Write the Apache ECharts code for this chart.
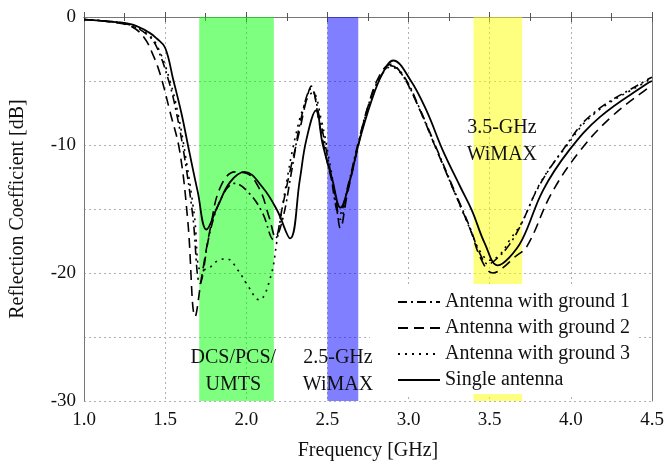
<!DOCTYPE html>
<html>
<head>
<meta charset="utf-8">
<script src="https://cdn.jsdelivr.net/npm/echarts@6/dist/echarts.min.js"></script>
<style>
  html, body { margin: 0; padding: 0; background: #fff; }
  #chart { width: 667px; height: 467px; }
</style>
</head>
<body>
<div id="chart"></div>
<script>
// single antenna (solid)
var freqSingle = [1.0, 1.2, 1.3, 1.4, 1.45, 1.5, 1.55, 1.6, 1.65, 1.7, 1.755, 1.82, 1.9, 1.99, 2.1, 2.19, 2.27, 2.33, 2.37, 2.43, 2.47, 2.53, 2.58, 2.64, 2.69, 2.77, 2.84, 2.905, 3.01, 3.11, 3.21, 3.32, 3.39, 3.47, 3.55, 3.62, 3.7, 3.83, 3.99, 4.18, 4.47, 4.5];
var dbSingle   = [-0.2, -0.4, -0.6, -1.2, -1.7, -2.4, -4.9, -7.5, -10.6, -13.6, -16.6, -14.9, -12.9, -12.1, -13.3, -15.1, -17.3, -12.7, -9.6, -7.3, -9.9, -12.7, -14.9, -12.7, -10.0, -6.6, -4.4, -3.4, -4.9, -7.3, -10.4, -13.3, -15.1, -17.7, -19.4, -18.8, -17.4, -13.5, -10.4, -7.8, -5.2, -5.0];

// antenna with ground 1 (dash-dot)
var freqG1 = [1.0, 1.2, 1.3, 1.4, 1.45, 1.52, 1.57, 1.62, 1.67, 1.715, 1.78, 1.86, 1.93, 2.02, 2.1, 2.17, 2.22, 2.28, 2.34, 2.4, 2.45, 2.51, 2.575, 2.63, 2.69, 2.76, 2.83, 2.89, 2.97, 3.07, 3.18, 3.28, 3.38, 3.44, 3.49, 3.55, 3.62, 3.69, 3.8, 3.95, 4.13, 4.47, 4.5];
var dbG1   = [-0.2, -0.4, -0.7, -1.5, -2.4, -4.9, -7.5, -11.0, -15.5, -20.8, -16.6, -13.8, -13.0, -13.8, -15.3, -17.4, -16.0, -12.0, -7.8, -5.6, -7.8, -11.5, -15.4, -13.0, -9.8, -6.6, -4.6, -3.8, -4.6, -7.2, -10.5, -13.5, -16.5, -18.5, -19.3, -18.8, -17.8, -16.3, -13.3, -10.4, -7.6, -4.9, -4.7];

// antenna with ground 2 (dashed)
var freqG2 = [1.0, 1.2, 1.3, 1.37, 1.42, 1.47, 1.53, 1.59, 1.64, 1.685, 1.725, 1.78, 1.84, 1.93, 2.0, 2.08, 2.14, 2.18, 2.22, 2.27, 2.33, 2.37, 2.4, 2.45, 2.5, 2.55, 2.58, 2.62, 2.68, 2.75, 2.82, 2.89, 2.96, 3.06, 3.17, 3.28, 3.38, 3.45, 3.52, 3.58, 3.65, 3.73, 3.88, 4.06, 4.25, 4.47, 4.5];
var dbG2   = [-0.2, -0.45, -0.8, -1.6, -2.8, -4.5, -7.4, -10.5, -16.0, -23.4, -20.3, -16.4, -13.3, -12.1, -12.2, -13.4, -15.6, -17.2, -15.0, -12.0, -8.8, -6.5, -5.4, -8.3, -11.4, -14.0, -16.5, -14.0, -10.6, -7.0, -4.6, -3.7, -4.5, -7.0, -10.3, -13.6, -16.6, -19.0, -20.0, -19.6, -18.8, -17.9, -13.8, -10.4, -7.8, -5.6, -5.4];

// antenna with ground 3 (dotted)
var freqG3 = [1.0, 1.2, 1.3, 1.4, 1.46, 1.53, 1.58, 1.63, 1.68, 1.72, 1.77, 1.83, 1.88, 1.95, 2.0, 2.08, 2.15, 2.19, 2.24, 2.3, 2.36, 2.41, 2.46, 2.52, 2.58, 2.63, 2.69, 2.76, 2.83, 2.89, 2.97, 3.07, 3.18, 3.28, 3.38, 3.44, 3.5, 3.56, 3.63, 3.7, 3.81, 3.96, 4.14, 4.47, 4.5];
var dbG3   = [-0.2, -0.4, -0.7, -1.4, -2.5, -5.0, -7.6, -11.2, -15.5, -19.8, -19.6, -19.0, -18.9, -19.8, -20.8, -22.1, -20.3, -17.4, -13.5, -9.5, -6.8, -5.9, -7.9, -11.8, -15.8, -13.2, -9.9, -6.7, -4.6, -3.9, -4.7, -7.3, -10.6, -13.6, -16.6, -18.3, -19.0, -18.6, -17.3, -16.0, -13.0, -10.3, -7.6, -5.0, -4.8];

// frequency bands [start, end] in GHz
var bandDCS     = [1.71, 2.17];
var bandWimax25 = [2.5, 2.69];
var bandWimax35 = [3.4, 3.7];

var seriesNames = ['Antenna with ground 1', 'Antenna with ground 2', 'Antenna with ground 3', 'Single antenna'];
var serif = '"Liberation Serif", "Times New Roman", serif';

function pairs(xs, ys) {
    return xs.map(function(x, i) { return [x, ys[i]]; });
}

function lineSeries(name, data, type, width) {
    return {
        name: name,
        type: 'line',
        data: data,
        smooth: 0.4,
        symbol: 'none',
        z: 2,
        itemStyle: { color: '#000' },
        lineStyle: { color: '#000', width: width, type: type }
    };
}

var chart = echarts.init(document.getElementById('chart'));

var option = {
    animation: false,
    backgroundColor: '#fff',
    grid: { left: 84, right: 15, top: 17, bottom: 66 },
    legend: {
        orient: 'vertical',
        left: 370,
        top: 284,
        padding: [8, 8, 4, 27],
        backgroundColor: '#fff',
        itemWidth: 42,
        itemHeight: 14,
        itemGap: 6,
        itemStyle: { opacity: 0 },
        textStyle: { fontFamily: serif, fontSize: 20, color: '#111', lineHeight: 20 },
        data: seriesNames
    },
    xAxis: [{
        type: 'value',
        min: 1.0,
        max: 4.5,
        interval: 0.5,
        name: 'Frequency [GHz]',
        nameLocation: 'middle',
        nameGap: 40,
        nameTextStyle: { fontFamily: serif, fontSize: 20, color: '#111' },
        axisLine: { lineStyle: { color: '#777', width: 1 } },
        axisTick: { inside: true, length: 5, lineStyle: { color: '#555' } },
        minorTick: { show: true, splitNumber: 2, length: 4, lineStyle: { color: '#555' } },
        axisLabel: {
            fontFamily: serif, fontSize: 19, color: '#111', margin: 10,
            formatter: function(v) { return v.toFixed(1); }
        },
        splitLine: { show: true, lineStyle: { color: '#b0b0b0', type: [2, 3], width: 1 } }
    }, {
        type: 'value',
        position: 'top',
        min: 1.0,
        max: 4.5,
        interval: 0.5,
        axisLine: { lineStyle: { color: '#777', width: 1 } },
        axisTick: { inside: true, length: 5, lineStyle: { color: '#555' } },
        minorTick: { show: true, splitNumber: 2, length: 4, lineStyle: { color: '#555' } },
        axisLabel: { show: false },
        splitLine: { show: false }
    }],
    yAxis: [{
        type: 'value',
        min: -30,
        max: 0,
        interval: 5,
        name: 'Reflection Coefficient [dB]',
        nameLocation: 'middle',
        nameGap: 56,
        nameTextStyle: { fontFamily: serif, fontSize: 20, color: '#111' },
        axisLine: { show: true, lineStyle: { color: '#777', width: 1 } },
        axisTick: { show: false },
        axisLabel: {
            fontFamily: serif, fontSize: 19, color: '#111', margin: 8,
            formatter: function(v) { return v % 10 === 0 ? String(v) : ''; }
        },
        splitLine: { show: true, lineStyle: { color: '#b0b0b0', type: [2, 3], width: 1 } }
    }, {
        type: 'value',
        position: 'right',
        min: -30,
        max: 0,
        interval: 5,
        axisLine: { show: true, lineStyle: { color: '#777', width: 1 } },
        axisTick: { show: false },
        axisLabel: { show: false },
        splitLine: { show: false }
    }],
    series: [
        lineSeries(seriesNames[0], pairs(freqG1, dbG1), [9, 4, 2, 4], 1.6),
        lineSeries(seriesNames[1], pairs(freqG2, dbG2), [10, 6], 1.6),
        lineSeries(seriesNames[2], pairs(freqG3, dbG3), [2, 5], 1.6),
        lineSeries(seriesNames[3], pairs(freqSingle, dbSingle), 'solid', 1.8),
        {
            // translucent band overlays, drawn over the curves
            name: 'bands',
            type: 'line',
            data: [],
            z: 3,
            silent: true,
            markArea: {
                silent: true,
                data: [
                    [{ xAxis: bandDCS[0], yAxis: 0, itemStyle: { color: 'rgba(0,255,0,0.5)' } }, { xAxis: bandDCS[1], yAxis: -30 }],
                    [{ xAxis: bandWimax25[0], yAxis: 0, itemStyle: { color: 'rgba(0,0,255,0.5)' } }, { xAxis: bandWimax25[1], yAxis: -30 }],
                    [{ xAxis: bandWimax35[0], yAxis: 0, itemStyle: { color: 'rgba(255,255,0,0.5)' } }, { xAxis: bandWimax35[1], yAxis: -30 }]
                ]
            }
        }
    ]
};

chart.setOption(option);

// band captions, placed in data coordinates
var captions = [
    { text: 'DCS/PCS/\nUMTS', at: [1.92, -27.7] },
    { text: '2.5-GHz\nWiMAX', at: [2.565, -27.7] },
    { text: '3.5-GHz\nWiMAX', at: [3.575, -9.7] }
];
chart.setOption({
    graphic: captions.map(function(c) {
        var p = chart.convertToPixel({ gridIndex: 0 }, c.at);
        return {
            type: 'text',
            z: 100,
            x: p[0],
            y: p[1],
            style: {
                text: c.text,
                fill: '#111',
                font: '20px ' + serif,
                lineHeight: 27,
                align: 'center',
                verticalAlign: 'middle'
            }
        };
    })
});
</script>
</body>
</html>
